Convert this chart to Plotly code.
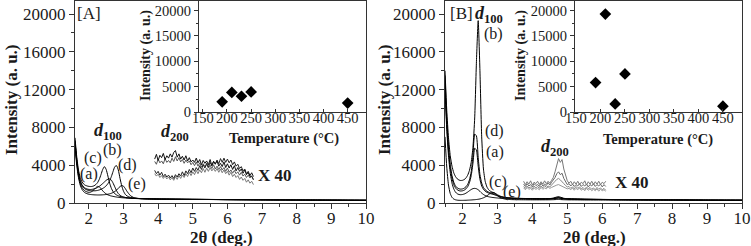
import plotly.graph_objects as go

# ---------------- data ----------------
# Panel A main patterns (2theta grid)
xA = [1.6, 1.65, 1.7, 1.75, 1.8, 1.85, 1.9, 1.95, 2.0, 2.05, 2.1, 2.15, 2.2, 2.25, 2.3, 2.35,
      2.4, 2.45, 2.5, 2.55, 2.6, 2.65, 2.7, 2.75, 2.8, 2.85, 2.9, 2.95, 3.0, 3.05, 3.1,
      3.2, 3.3, 3.4, 3.5, 3.75, 4.0, 4.5, 5.0, 5.5, 6.0, 6.5, 7.0, 7.5, 8.0, 8.5, 9.0, 9.5, 10.0]
A_a = [6200, 4300, 2900, 2100, 1650, 1400, 1250, 1170, 1130, 1150, 1250, 1420, 1620, 1760, 1720, 1520,
       1290, 1100, 960, 860, 790, 740, 700, 660, 630, 600, 580, 560, 545, 530, 515,
       495, 480, 465, 455, 430, 415, 395, 380, 370, 355, 345, 335, 325, 315, 305, 300, 290, 285]
A_b = [6900, 4900, 3500, 2700, 2250, 2000, 1870, 1800, 1760, 1740, 1760, 1820, 1950, 2150, 2500, 3000,
       3550, 3850, 3550, 2850, 2100, 1550, 1200, 980, 850, 760, 700, 650, 615, 585, 560,
       525, 500, 480, 465, 440, 420, 405, 385, 375, 360, 350, 340, 330, 320, 310, 305, 295, 290]
A_c = [6600, 4600, 3200, 2400, 1950, 1700, 1560, 1480, 1440, 1430, 1450, 1490, 1550, 1640, 1760, 1900,
       2060, 2230, 2400, 2520, 2550, 2420, 2100, 1700, 1300, 1000, 820, 700, 630, 590, 560,
       520, 495, 475, 460, 435, 418, 400, 383, 372, 358, 348, 338, 328, 318, 308, 302, 292, 288]
A_d = [6500, 4500, 3100, 2300, 1850, 1600, 1460, 1380, 1330, 1300, 1290, 1290, 1300, 1330, 1380, 1450,
       1540, 1660, 1820, 2050, 2350, 2800, 3350, 3850, 3950, 3500, 2600, 1800, 1250, 920, 750,
       590, 520, 490, 470, 440, 422, 402, 388, 376, 362, 350, 340, 330, 320, 312, 304, 296, 290]
A_e = [6000, 4000, 2700, 1900, 1450, 1200, 1060, 980, 930, 900, 880, 865, 855, 850, 850, 855,
       865, 880, 900, 930, 970, 1030, 1110, 1220, 1370, 1560, 1750, 1850, 1780, 1540, 1240,
       780, 570, 490, 460, 430, 410, 392, 378, 368, 352, 342, 332, 322, 312, 302, 296, 288, 282]

# Panel A  d200 region (x40), grid start / step
nA_start, nA_step = 3.9, 0.05
NA1 = [4650, 5150, 4500, 5050, 4800, 5250, 4600, 5000, 4750, 5200,
       4850, 5350, 5550, 4850, 5200, 4650, 4950, 4550, 5000, 4450,
       4800, 4350, 4550, 4300, 4750, 4250, 4600, 4050, 4500, 4200,
       4450, 4050, 4600, 3950, 4400, 4150, 4450, 3900, 4200, 3850,
       4350, 3750, 4150, 3700, 4050, 3550, 3950, 3400, 3750, 3350,
       3600, 3150, 3500, 3000, 3350, 2900, 3200, 2800]
NA2 = [4400, 4100, 4650, 4250, 4450, 4150, 4700, 4300, 4500, 4250,
       4750, 4400, 4900, 4450, 4800, 4350, 4600, 4200, 4550, 4250,
       4450, 4050, 4300, 3950, 4350, 3900, 4250, 3800, 4150, 3850,
       4100, 3700, 4000, 3650, 4050, 3600, 3900, 3550, 3850, 3500,
       3750, 3350, 3700, 3250, 3500, 3150, 3450, 3100, 3300, 2950,
       3250, 2850, 3050, 2700, 2950, 2650, 2850, 2500]
NA3 = [3450, 3100, 3350, 2950, 3250, 2800, 3050, 2750, 2950, 2650,
       2900, 2600, 3000, 2750, 3100, 2850, 3300, 2900, 3400, 3100,
       3550, 3200, 3700, 3350, 3750, 3450, 3950, 3550, 4050, 3700,
       4200, 3800, 4300, 3950, 4400, 4100, 4550, 4150, 4700, 4300,
       4750, 4300, 4650, 4250, 4550, 4050, 4350, 3900, 4100, 3650,
       3850, 3400, 3600, 3100, 3200, 2800, 2850, 2450]
NA4 = [3100, 2850, 3050, 2700, 2900, 2600, 2850, 2550, 2750, 2450,
       2700, 2400, 2800, 2500, 2900, 2600, 2950, 2700, 3100, 2800,
       3250, 2900, 3300, 3000, 3450, 3100, 3500, 3200, 3650, 3250,
       3700, 3350, 3750, 3400, 3650, 3350, 3650, 3250, 3600, 3200,
       3500, 3100, 3350, 2950, 3250, 2800, 3050, 2700, 2900, 2500,
       2750, 2400, 2600, 2200, 2450, 2100, 2300, 1950]

# Panel B main patterns
xB = [1.5, 1.55, 1.6, 1.65, 1.7, 1.75, 1.8, 1.85, 1.9, 1.95, 2.0, 2.05, 2.1, 2.15, 2.2, 2.25,
      2.3, 2.35, 2.4, 2.45, 2.5, 2.55, 2.6, 2.65, 2.7, 2.75, 2.8, 2.85, 2.9, 2.95, 3.0, 3.05, 3.1,
      3.2, 3.3, 3.4, 3.5, 3.75, 4.0, 4.25, 4.5, 4.6, 4.7, 4.75, 4.8, 4.9, 5.0, 5.25, 5.5,
      6.0, 6.5, 7.0, 7.5, 8.0, 8.5, 9.0, 9.5, 10.0]
B_b = [14000, 9800, 6900, 5000, 3900, 3200, 2800, 2560, 2430, 2380, 2400, 2480, 2650, 2950, 3450, 4300,
       5900, 9000, 15000, 19300, 14000, 7000, 3600, 2300, 1700, 1400, 1250, 1150, 1100, 1000, 880, 780, 700,
       610, 560, 530, 510, 480, 460, 450, 470, 520, 640, 680, 620, 500, 450, 420, 400,
       380, 360, 350, 340, 330, 320, 310, 305, 300]
B_d = [13500, 9000, 6000, 4100, 2900, 2200, 1800, 1600, 1500, 1470, 1490, 1570, 1720, 1980, 2450, 3300,
       5000, 7300, 7100, 4800, 3000, 2100, 1650, 1400, 1250, 1150, 1080, 1020, 960, 880, 800, 720, 660,
       590, 545, 515, 495, 470, 452, 445, 455, 490, 560, 590, 550, 470, 440, 415, 395,
       375, 357, 347, 337, 327, 317, 308, 302, 297]
B_a = [12500, 8300, 5500, 3700, 2600, 1950, 1600, 1400, 1300, 1270, 1290, 1360, 1500, 1730, 2150, 2900,
       4200, 5800, 5600, 3900, 2500, 1800, 1450, 1250, 1130, 1050, 990, 940, 890, 820, 750, 680, 630,
       570, 530, 505, 485, 462, 447, 440, 448, 475, 530, 555, 520, 460, 432, 410, 390,
       372, 355, 345, 335, 325, 315, 306, 300, 295]
B_c = [12000, 7800, 5000, 3200, 2100, 1500, 1150, 980, 900, 880, 900, 950, 1040, 1160, 1300, 1430,
       1520, 1550, 1510, 1400, 1230, 1050, 900, 790, 710, 660, 620, 590, 570, 550, 530, 515, 500,
       480, 465, 455, 445, 430, 420, 415, 420, 440, 480, 500, 470, 430, 410, 395, 380,
       365, 350, 340, 330, 320, 312, 304, 298, 292]
B_e = [7000, 3800, 1900, 1000, 600, 420, 340, 300, 285, 280, 280, 285, 290, 300, 310, 320,
       335, 350, 370, 395, 430, 480, 550, 640, 760, 900, 1030, 1100, 1080, 960, 800, 650, 540,
       430, 380, 360, 350, 340, 335, 335, 340, 350, 370, 380, 365, 345, 335, 330, 320,
       315, 310, 305, 300, 295, 290, 285, 280, 275]

# Panel B d200 region (x40)
nB_start, nB_step = 3.75, 0.05
NB1 = [2300, 1950, 2250, 2000, 2350, 1900, 2200, 2050, 2300, 1950,
       2250, 2000, 2350, 2050, 2300, 2100, 2400, 2700, 3300, 4100,
       4700, 4300, 4600, 3600, 2800, 2350, 2100, 2300, 1950, 2250,
       2000, 2300, 1950, 2200, 2050, 2350, 1900, 2250, 2000, 2300,
       1950, 2250, 2000, 2300, 1950, 2200, 2050, 2300]
NB2 = [2000, 1750, 2050, 1800, 1950, 1700, 2050, 1850, 1950, 1750,
       2100, 1800, 2000, 1850, 2150, 1900, 2200, 2400, 2700, 3100,
       3300, 3000, 3150, 2600, 2200, 1950, 2050, 1800, 2000, 1750,
       1950, 1800, 2050, 1750, 1950, 1800, 2000, 1700, 1950, 1800,
       2050, 1750, 1950, 1800, 2000, 1700, 1950, 1750]
NB3 = [1750, 1550, 1800, 1600, 1700, 1500, 1800, 1600, 1750, 1550,
       1800, 1600, 1850, 1650, 1800, 1700, 1900, 2050, 2300, 2500,
       2600, 2450, 2300, 2050, 1850, 1700, 1750, 1550, 1700, 1500,
       1750, 1550, 1700, 1500, 1650, 1450, 1700, 1500, 1650, 1450,
       1600, 1400, 1650, 1450, 1600, 1400, 1550, 1350]
NB4 = [1600, 1400, 1650, 1450, 1550, 1350, 1600, 1450, 1550, 1400,
       1650, 1450, 1600, 1500, 1700, 1550, 1650, 1750, 1850, 1900,
       1950, 1850, 1800, 1700, 1600, 1500, 1550, 1400, 1600, 1350,
       1550, 1400, 1600, 1350, 1500, 1300, 1550, 1350, 1500, 1300,
       1450, 1300, 1500, 1250, 1450, 1300, 1400, 1250]

# Insets: d100 intensity vs temperature
temps = [190, 210, 230, 250, 450]
inset_A = [2000, 3850, 3100, 3950, 1750]
inset_B = [5800, 19300, 1600, 7500, 1150]

curve_labels = ["(a)", "(b)", "(c)", "(d)", "(e)"]

# ---------------- figure ----------------
W, H = 751, 246
SERIF = "Liberation Serif"
AX = "#333333"
TXT = "#1a1a1a"


def fx(p):
    return p / W


def fy(p):
    return 1 - p / H


fig = go.Figure()

for ys in [A_a, A_b, A_c, A_d, A_e]:
    fig.add_trace(go.Scatter(x=xA, y=ys, mode="lines", xaxis="x", yaxis="y",
                             line=dict(color="black", width=1, shape="spline", smoothing=0.5),
                             showlegend=False, hoverinfo="skip"))
for ys, col in [(NA4, "#777777"), (NA2, "#555555"), (NA3, "#222222"), (NA1, "#111111")]:
    xs = [round(nA_start + nA_step * i, 3) for i in range(len(ys))]
    fig.add_trace(go.Scatter(x=xs, y=ys, mode="lines", xaxis="x", yaxis="y",
                             line=dict(color=col, width=1), showlegend=False, hoverinfo="skip"))

for ys in [B_e, B_c, B_a, B_d, B_b]:
    fig.add_trace(go.Scatter(x=xB, y=ys, mode="lines", xaxis="x2", yaxis="y2",
                             line=dict(color="black", width=1, shape="spline", smoothing=0.5),
                             showlegend=False, hoverinfo="skip"))
for ys, col in [(NB4, "#999999"), (NB3, "#888888"), (NB2, "#666666"), (NB1, "#777777")]:
    xs = [round(nB_start + nB_step * i, 3) for i in range(len(ys))]
    fig.add_trace(go.Scatter(x=xs, y=ys, mode="lines", xaxis="x2", yaxis="y2",
                             line=dict(color=col, width=1), showlegend=False, hoverinfo="skip"))

fig.add_trace(go.Scatter(x=temps, y=inset_A, mode="markers", xaxis="x3", yaxis="y3",
                         marker=dict(symbol="diamond", size=9, color="black"),
                         showlegend=False, hoverinfo="skip"))
fig.add_trace(go.Scatter(x=temps, y=inset_B, mode="markers", xaxis="x4", yaxis="y4",
                         marker=dict(symbol="diamond", size=9, color="black"),
                         showlegend=False, hoverinfo="skip"))

main_x = dict(dtick=1, tick0=0, ticks="outside", ticklen=5, tickwidth=1, tickcolor=AX,
              minor=dict(dtick=0.5, ticks="outside", ticklen=3, tickcolor=AX),
              showline=True, linecolor=AX, linewidth=1, mirror=True, showgrid=False,
              zeroline=False, tickangle=0, tickformat="d", automargin=False,
              ticklabelstandoff=-5,
              tickfont=dict(family=SERIF, size=17, color=TXT))
main_y = dict(range=[0, 21380], dtick=4000, tick0=0, ticks="outside", ticklen=5, tickwidth=1,
              tickcolor=AX, minor=dict(dtick=2000, ticks="outside", ticklen=3, tickcolor=AX),
              showline=True, linecolor=AX, linewidth=1, mirror=True, showgrid=False,
              zeroline=False, tickformat="d", tickangle=0, automargin=False,
              tickfont=dict(family=SERIF, size=17, color=TXT),
              domain=[fy(203), fy(1)])
ins_x = dict(dtick=50, tick0=0, ticks="inside", ticklen=3, tickwidth=1, tickcolor=AX,
             showline=True, linecolor=AX, linewidth=1, mirror=True, showgrid=False,
             zeroline=False, tickformat="d", tickangle=0, automargin=False,
             ticklabelstandoff=-7,
             tickfont=dict(family=SERIF, size=14.5, color=TXT))
ins_y = dict(range=[0, 21870], dtick=5000, tick0=0, ticks="outside", ticklen=4, tickwidth=1,
             tickcolor=AX, minor=dict(dtick=2500, ticks="outside", ticklen=2, tickcolor=AX),
             showline=True, linecolor=AX, linewidth=1, mirror=True, showgrid=False,
             zeroline=False, tickformat="d", tickangle=0, automargin=False,
             tickfont=dict(family=SERIF, size=14.5, color=TXT),
             domain=[fy(112), fy(1)])

fig.update_layout(
    width=W, height=H, margin=dict(l=0, r=0, t=0, b=0, autoexpand=False),
    paper_bgcolor="white", plot_bgcolor="white",
    font=dict(family=SERIF, color=TXT),
    hovermode=False,
    xaxis=dict(main_x, range=[1.6, 10], domain=[fx(75), fx(366)], anchor="y"),
    yaxis=dict(main_y, anchor="x"),
    xaxis2=dict(main_x, range=[1.5, 10], domain=[fx(445), fx(742)], anchor="y2"),
    yaxis2=dict(main_y, anchor="x2"),
    xaxis3=dict(ins_x, range=[142, 488], domain=[fx(199), fx(366)], anchor="y3"),
    yaxis3=dict(ins_y, anchor="x3"),
    xaxis4=dict(ins_x, range=[148, 489], domain=[fx(575), fx(742)], anchor="y4"),
    yaxis4=dict(ins_y, anchor="x4"),
)

ann = []


def paper_text(txt, px, py, size, angle=0):
    ann.append(dict(text=txt, x=fx(px), y=fy(py), xref="paper", yref="paper",
                    xanchor="center", yanchor="middle", showarrow=False, textangle=angle,
                    font=dict(family=SERIF, size=size, color=TXT)))


def data_text(txt, x, y, xr, yr, size):
    ann.append(dict(text=txt, x=x, y=y, xref=xr, yref=yr, xanchor="center", yanchor="middle",
                    showarrow=False, font=dict(family=SERIF, size=size, color=TXT)))


# axis titles
paper_text("<b>Intensity (a. u.)</b>", 11, 100, 17, -90)
paper_text("<b>2θ (deg.)</b>", 221, 237, 17)
paper_text("<b>Intensity (a. u.)</b>", 384, 100, 17, -90)
paper_text("<b>2θ (deg.)</b>", 594, 237, 17)
paper_text("<b>Intensity (a. u.)</b>", 146, 56, 14, -90)
paper_text("<b>Temperature (°C)</b>", 284, 138, 14.5)
paper_text("<b>Intensity (a. u.)</b>", 521, 56, 14, -90)
paper_text("<b>Temperature (°C)</b>", 658, 139, 14.5)
paper_text("[A]", 89, 13, 17)
paper_text("[B]", 461, 14, 17)

# panel A labels
posA = [(2.0, 3070), (2.67, 5610), (2.11, 4760), (3.12, 4020), (3.38, 2010)]
for lab, (x, y) in zip(curve_labels, posA):
    data_text(lab, x, y, "x", "y", 16)
data_text("<b><i>d</i><sub>100</sub></b>", 2.55, 7620, "x", "y", 18)
data_text("<b><i>d</i><sub>200</sub></b>", 4.49, 7510, "x", "y", 18)
data_text("<b>X 40</b>", 7.38, 2860, "x", "y", 17)

# panel B labels
posB = [(2.93, 5430), (2.88, 17900), (3.02, 2230), (2.93, 7660), (3.42, 1170)]
for lab, (x, y) in zip(curve_labels, posB):
    data_text(lab, x, y, "x2", "y2", 16)
data_text("<b><i>d</i><sub>100</sub></b>", 2.76, 19900, "x2", "y2", 18)
data_text("<b><i>d</i><sub>200</sub></b>", 4.65, 5850, "x2", "y2", 18)
data_text("<b>X 40</b>", 6.86, 2130, "x2", "y2", 17)

fig.update_layout(annotations=ann)
fig.write_html("out.html", config={"displayModeBar": False, "staticPlot": True},
               post_script="document.body.style.margin='0px';document.body.style.overflow='hidden';")
